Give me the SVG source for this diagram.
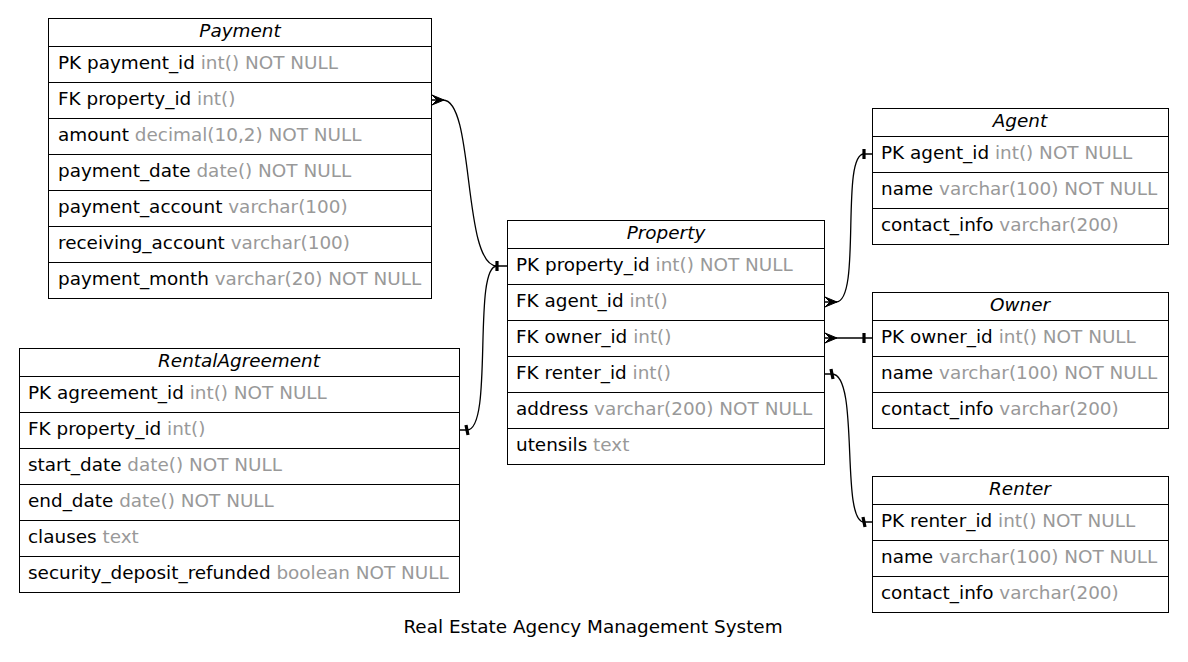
<svg xmlns="http://www.w3.org/2000/svg" width="1188" height="662" viewBox="0 0 1188 662">
<style>
text{font-family:"DejaVu Sans",sans-serif;font-size:18.4px;fill:#000}
.h{font-style:italic;text-anchor:middle}
.t{fill:#999999}
.box{fill:#fff;stroke:#000;stroke-width:1}
.sep{stroke:#000;stroke-width:1}
.edge{fill:none;stroke:#000;stroke-width:1.3}
.tee{stroke:#000;stroke-width:3.2;fill:none}
.crow{fill:#000;stroke:#000;stroke-width:1}
</style>
<rect width="1188" height="662" fill="#fff"/>
<g id="Payment">
<rect class="box" x="48.5" y="18.5" width="383" height="280"/>
<path class="sep" d="M48,46.5H431M48,82.5H431M48,118.5H431M48,154.5H431M48,190.5H431M48,226.5H431M48,262.5H431"/>
<text class="h" x="240" y="37">Payment</text>
<text x="58" y="69">PK payment_id <tspan class="t">int() NOT NULL</tspan></text>
<text x="58" y="105">FK property_id <tspan class="t">int()</tspan></text>
<text x="58" y="141">amount <tspan class="t">decimal(10,2) NOT NULL</tspan></text>
<text x="58" y="177">payment_date <tspan class="t">date() NOT NULL</tspan></text>
<text x="58" y="213">payment_account <tspan class="t">varchar(100)</tspan></text>
<text x="58" y="249">receiving_account <tspan class="t">varchar(100)</tspan></text>
<text x="58" y="285">payment_month <tspan class="t">varchar(20) NOT NULL</tspan></text>
</g>
<g id="RentalAgreement">
<rect class="box" x="19.5" y="348.5" width="440" height="244"/>
<path class="sep" d="M19,376.5H459M19,412.5H459M19,448.5H459M19,484.5H459M19,520.5H459M19,556.5H459"/>
<text class="h" x="239" y="367">RentalAgreement</text>
<text x="28" y="399">PK agreement_id <tspan class="t">int() NOT NULL</tspan></text>
<text x="28" y="435">FK property_id <tspan class="t">int()</tspan></text>
<text x="28" y="471">start_date <tspan class="t">date() NOT NULL</tspan></text>
<text x="28" y="507">end_date <tspan class="t">date() NOT NULL</tspan></text>
<text x="28" y="543">clauses <tspan class="t">text</tspan></text>
<text x="28" y="579">security_deposit_refunded <tspan class="t">boolean NOT NULL</tspan></text>
</g>
<g id="Property">
<rect class="box" x="507.5" y="220.5" width="317" height="244"/>
<path class="sep" d="M507,248.5H824M507,284.5H824M507,320.5H824M507,356.5H824M507,392.5H824M507,428.5H824"/>
<text class="h" x="666" y="239">Property</text>
<text x="516" y="271">PK property_id <tspan class="t">int() NOT NULL</tspan></text>
<text x="516" y="307">FK agent_id <tspan class="t">int()</tspan></text>
<text x="516" y="343">FK owner_id <tspan class="t">int()</tspan></text>
<text x="516" y="379">FK renter_id <tspan class="t">int()</tspan></text>
<text x="516" y="415">address <tspan class="t">varchar(200) NOT NULL</tspan></text>
<text x="516" y="451">utensils <tspan class="t">text</tspan></text>
</g>
<g id="Agent">
<rect class="box" x="872.5" y="108.5" width="296" height="136"/>
<path class="sep" d="M872,136.5H1168M872,172.5H1168M872,208.5H1168"/>
<text class="h" x="1020" y="127">Agent</text>
<text x="881" y="159">PK agent_id <tspan class="t">int() NOT NULL</tspan></text>
<text x="881" y="195">name <tspan class="t">varchar(100) NOT NULL</tspan></text>
<text x="881" y="231">contact_info <tspan class="t">varchar(200)</tspan></text>
</g>
<g id="Owner">
<rect class="box" x="872.5" y="292.5" width="296" height="136"/>
<path class="sep" d="M872,320.5H1168M872,356.5H1168M872,392.5H1168"/>
<text class="h" x="1020" y="311">Owner</text>
<text x="881" y="343">PK owner_id <tspan class="t">int() NOT NULL</tspan></text>
<text x="881" y="379">name <tspan class="t">varchar(100) NOT NULL</tspan></text>
<text x="881" y="415">contact_info <tspan class="t">varchar(200)</tspan></text>
</g>
<g id="Renter">
<rect class="box" x="872.5" y="476.5" width="296" height="136"/>
<path class="sep" d="M872,504.5H1168M872,540.5H1168M872,576.5H1168"/>
<text class="h" x="1020" y="495">Renter</text>
<text x="881" y="527">PK renter_id <tspan class="t">int() NOT NULL</tspan></text>
<text x="881" y="563">name <tspan class="t">varchar(100) NOT NULL</tspan></text>
<text x="881" y="599">contact_info <tspan class="t">varchar(200)</tspan></text>
</g>
<g id="connectors">
<path class="edge" d="M431,100L443,100C475,100 462,266 497,266L507,266"/>
<path class="crow" d="M444,100L432,95L437,100L432,105Z"/>
<path class="tee" d="M497,261V271"/>
<path class="edge" d="M459,430L467,430C494,430 472,266 497,266"/>
<path class="tee" d="M466,425L468,435"/>
<path class="edge" d="M824,302L836,302C862,302 840,154 864,154L872,154"/>
<path class="crow" d="M837,302L825,297L830,302L825,307Z"/>
<path class="tee" d="M864,149V159"/>
<path class="edge" d="M824,338L872,338"/>
<path class="crow" d="M837,338L825,333L830,338L825,343Z"/>
<path class="tee" d="M864,333V343"/>
<path class="edge" d="M824,374L832,374C860,374 840,522 864,522L872,522"/>
<path class="tee" d="M831,369L833,379"/>
<path class="tee" d="M863,517L865,527"/>
</g>
<text x="593" y="633" text-anchor="middle">Real Estate Agency Management System</text>
</svg>
